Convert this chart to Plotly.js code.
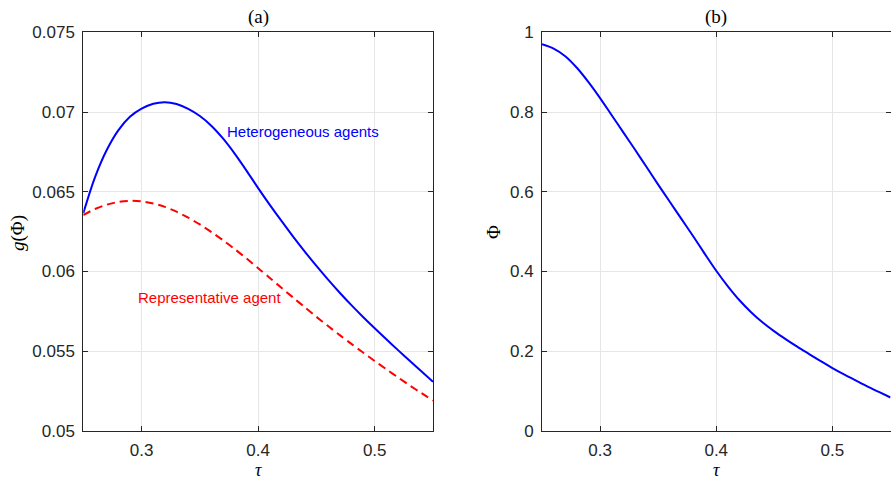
<!DOCTYPE html>
<html>
<head>
<meta charset="utf-8">
<script src="https://cdn.plot.ly/plotly-3.0.1.min.js"></script>
<style>html,body{margin:0;padding:0;background:#fff;}#chart{width:891px;height:480px;}</style>
</head>
<body>
<div id="chart"></div>
<script>
// tau grid
var tau = [0.25,0.26,0.27,0.28,0.29,0.30,0.31,0.32,0.33,0.34,0.35,0.36,0.37,0.38,0.39,0.40,
           0.41,0.42,0.43,0.44,0.45,0.46,0.47,0.48,0.49,0.50,0.51,0.52,0.53,0.54,0.55];
// g(Phi), heterogeneous agents
var gHetero = [0.06365,0.0659,0.0676,0.06885,0.0697,0.07021,0.07052,0.07062,0.0705,0.0702,0.06975,
               0.06913,0.06833,0.06738,0.06633,0.06523,0.06418,0.06317,0.06219,0.06125,0.06035,
               0.05949,0.05867,0.05789,0.05715,0.05644,0.05575,0.05507,0.0544,0.05374,0.05309];
// g(Phi), representative agent
var gRep = [0.06354,0.06392,0.06419,0.06436,0.06443,0.0644,0.06427,0.06405,0.06375,0.06338,0.06295,
            0.06247,0.06195,0.0614,0.06082,0.06021,0.0596,0.05898,0.05837,0.05776,0.05716,0.05658,
            0.05601,0.05546,0.05492,0.05439,0.05387,0.05336,0.05286,0.05238,0.05191];
// Phi
var phi = [0.970,0.959,0.940,0.911,0.875,0.835,0.792,0.749,0.706,0.662,0.618,0.575,0.532,0.489,
           0.445,0.402,0.363,0.328,0.298,0.272,0.250,0.230,0.211,0.193,0.175,0.158,0.142,0.127,
           0.112,0.098,0.084];

var xTicks = [0.3,0.4,0.5];
var xTickText = ['0.3','0.4','0.5'];
var yTicksA = [0.05,0.055,0.06,0.065,0.07,0.075];
var yTickTextA = ['0.05','0.055','0.06','0.065','0.07','0.075'];
var yTicksB = [0,0.2,0.4,0.6,0.8,1];
var yTickTextB = ['0','0.2','0.4','0.6','0.8','1'];

var labelHetero = 'Heterogeneous agents';
var labelRep = 'Representative agent';

var traces = [
  {x: tau, y: gHetero, type:'scatter', mode:'lines', xaxis:'x', yaxis:'y',
   line:{color:'#0000ff', width:2, shape:'spline', smoothing:0.9}, hoverinfo:'skip'},
  {x: tau, y: gRep, type:'scatter', mode:'lines', xaxis:'x', yaxis:'y',
   line:{color:'#ff0000', width:2, dash:'8px,5px', shape:'spline', smoothing:0.9}, hoverinfo:'skip'},
  {x: tau, y: phi, type:'scatter', mode:'lines', xaxis:'x2', yaxis:'y2',
   line:{color:'#0000ff', width:2, shape:'spline', smoothing:0.9}, hoverinfo:'skip'}
];

var axCommon = {
  showline:true, linecolor:'#262626', linewidth:1, mirror:'ticks',
  ticks:'inside', ticklen:5, tickcolor:'#262626', tickwidth:1,
  showgrid:true, gridcolor:'#e6e6e6', gridwidth:1, zeroline:false,
  tickfont:{family:'Liberation Sans, Arial, sans-serif', size:17, color:'#262626'},
  tickmode:'array', fixedrange:true, ticklabelstandoff:4
};
function ax(extra){ return Object.assign({}, axCommon, extra); }

var W = 891, H = 480;
var yDom = [(H-431)/H, (H-32.3)/H];
var serif = 'Liberation Serif, Times New Roman, serif';

var layout = {
  width: W, height: H,
  margin:{l:0,r:0,t:0,b:0},
  paper_bgcolor:'#ffffff', plot_bgcolor:'#ffffff',
  showlegend:false,
  xaxis: ax({domain:[83.3/W, 433/W], range:[0.25,0.55], tickvals:xTicks, ticktext:xTickText, anchor:'y'}),
  yaxis: ax({domain:yDom, range:[0.05,0.075], tickvals:yTicksA, ticktext:yTickTextA, anchor:'x'}),
  xaxis2: ax({domain:[542/W, 890.5/W], range:[0.25,0.55], tickvals:xTicks, ticktext:xTickText, anchor:'y2'}),
  yaxis2: ax({domain:yDom, range:[0,1], tickvals:yTicksB, ticktext:yTickTextB, anchor:'x2'}),
  annotations: [
    {xref:'x', yref:'y', x:0.3715, y:0.06881, text:labelHetero, showarrow:false, xanchor:'left', yanchor:'middle',
     font:{family:'Liberation Sans, Arial, sans-serif', size:15, color:'#0000ff'}},
    {xref:'x', yref:'y', x:0.2953, y:0.05834, text:labelRep, showarrow:false, xanchor:'left', yanchor:'middle',
     font:{family:'Liberation Sans, Arial, sans-serif', size:15, color:'#ff0000'}},
    {xref:'paper', yref:'paper', x:258/W, y:(H-17)/H, text:'(a)', showarrow:false, xanchor:'center', yanchor:'middle',
     font:{family:serif, size:19, color:'#000000'}},
    {xref:'paper', yref:'paper', x:716/W, y:(H-17)/H, text:'(b)', showarrow:false, xanchor:'center', yanchor:'middle',
     font:{family:serif, size:19, color:'#000000'}},
    {xref:'paper', yref:'paper', x:258/W, y:(H-470)/H, text:'<i>τ</i>', showarrow:false, xanchor:'center', yanchor:'middle',
     font:{family:serif, size:18, color:'#000000'}},
    {xref:'paper', yref:'paper', x:716/W, y:(H-470)/H, text:'<i>τ</i>', showarrow:false, xanchor:'center', yanchor:'middle',
     font:{family:serif, size:18, color:'#000000'}},
    {xref:'paper', yref:'paper', x:18/W, y:(H-233)/H, text:'<i>g</i>(Φ)', showarrow:false, textangle:-90, xanchor:'center', yanchor:'middle',
     font:{family:serif, size:19, color:'#000000'}},
    {xref:'paper', yref:'paper', x:494/W, y:(H-232)/H, text:'Φ', showarrow:false, textangle:-90, xanchor:'center', yanchor:'middle',
     font:{family:serif, size:19, color:'#000000'}}
  ]
};

Plotly.newPlot('chart', traces, layout, {displayModeBar:false, staticPlot:true});
</script>
</body>
</html>
